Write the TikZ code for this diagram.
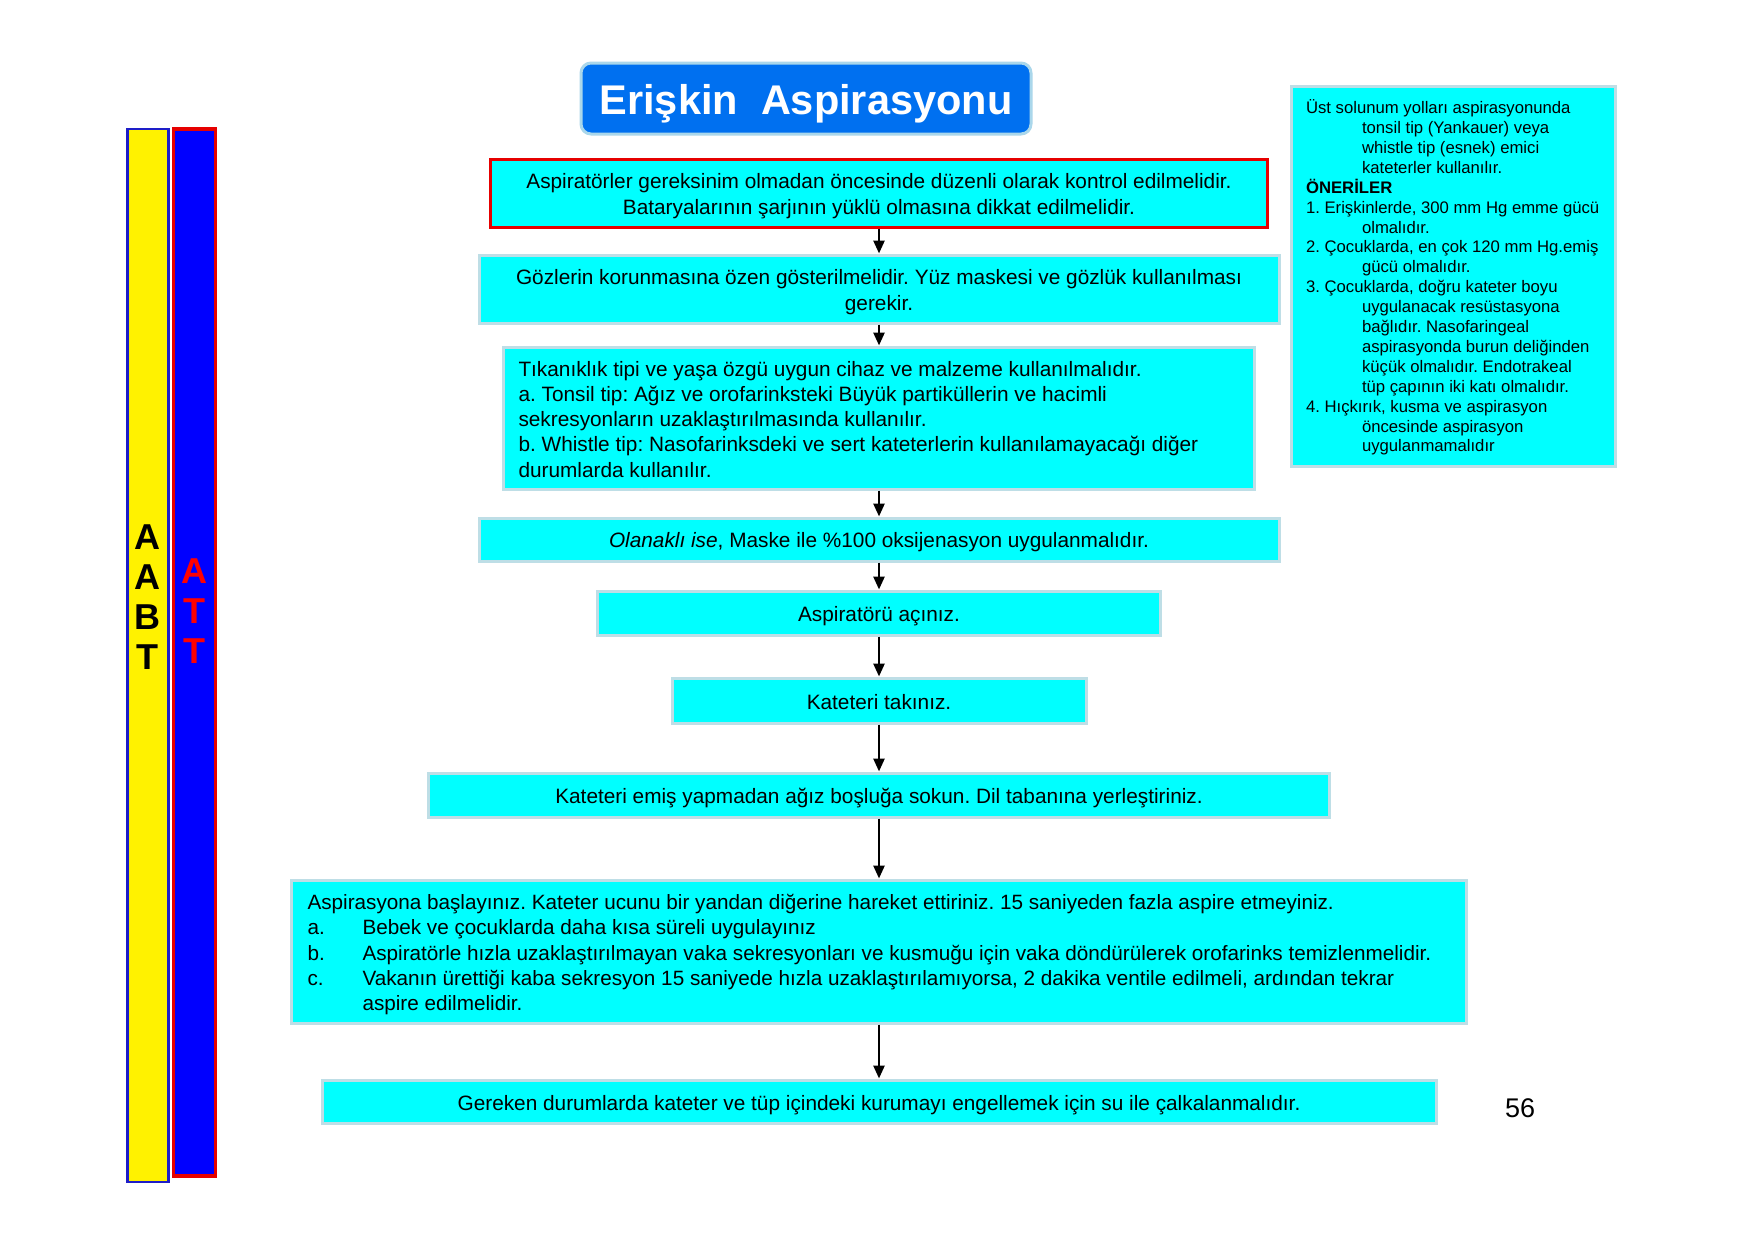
\documentclass[tikz,border=0pt]{standalone}
\usepackage{fontspec}
\setmainfont{Liberation Sans}
\usetikzlibrary{arrows.meta}
\definecolor{cyanfill}{RGB}{0,255,255}
\definecolor{boxedge}{RGB}{190,222,230}
\definecolor{titleblue}{RGB}{0,112,240}
\definecolor{titleedge}{RGB}{170,215,235}
\definecolor{barblue}{RGB}{0,0,255}
\definecolor{baredge}{RGB}{30,30,200}
\definecolor{redline}{RGB}{230,0,0}
\newcommand\hind{\hspace*{56pt}}
\newcommand\lbl[1]{\makebox[55pt][l]{#1}}
\newcommand\dn[2]{\raisebox{-#1}[\height][\depth]{#2}}
\newcommand\ctext[1]{\begin{tabular}{@{}c@{}}#1\end{tabular}}
\newcommand\ltext[2]{\parbox{#1}{\raggedright #2}}
\begin{document}
\frenchspacing
\begin{tikzpicture}[x=1pt,y=-1pt,
 box/.style={draw=boxedge,line width=3pt,fill=cyanfill,inner sep=0pt,font=\fontsize{20.8}{26}\selectfont},
 flow/.style={-{Triangle[length=13pt,width=11pt]},line width=2.6pt},
 barletters/.style={font=\fontsize{36}{40}\selectfont\bfseries,align=center,inner sep=0pt}]
\useasboundingbox[fill=white] (0,0) rectangle (1755,1240);

% side bars
\node[draw=baredge,line width=2.5pt,fill=yellow,minimum width=41pt,minimum height=1053pt,inner sep=0pt] (ybar) at (148,655.5) {};
\node[draw=redline,line width=3.5pt,fill=barblue,minimum width=42pt,minimum height=1047pt,inner sep=0pt] (bbar) at (194.5,652.5) {};
\node[barletters,text=black] (abt) at (147.5,597) {A\\A\\B\\T};
\node[barletters,text=red] (att) at (194.5,611) {A\\T\\T};

% title
\node[draw=titleedge,line width=3pt,fill=titleblue,rounded corners=10pt,minimum width=450pt,minimum height=71pt,inner sep=0pt,text=white,font=\fontsize{41.5}{48}\selectfont\bfseries] (title) at (806,98.5) {\dn{5.3pt}{Erişkin\ \ Aspirasyonu}};

% flow boxes
\node[box,draw=redline,minimum width=777pt,minimum height=68pt] (b1) at (879,193)
 {\dn{3.4pt}{\ctext{Aspiratörler gereksinim olmadan öncesinde düzenli olarak kontrol edilmelidir.\\Bataryalarının şarjının yüklü olmasına dikkat edilmelidir.}}};
\node[box,minimum width=800pt,minimum height=68pt] (b2) at (879,289)
 {\dn{3.4pt}{\ctext{Gözlerin korunmasına özen gösterilmelidir. Yüz maskesi ve gözlük kullanılması\\gerekir.}}};
\node[box,minimum width=751pt,minimum height=142pt,font=\fontsize{20.8}{25.2}\selectfont] (b3) at (879,418)
 {\dn{1.2pt}{\ltext{721pt}{\mbox{Tıkanıklık tipi ve yaşa özgü uygun cihaz ve malzeme kullanılmalıdır.}\\
  \mbox{a. Tonsil tip: Ağız ve orofarinksteki Büyük partiküllerin ve hacimli}\\
  \mbox{sekresyonların uzaklaştırılmasında kullanılır.}\\
  \mbox{b. Whistle tip: Nasofarinksdeki ve sert kateterlerin kullanılamayacağı diğer}\\
  \mbox{durumlarda kullanılır.}}}};
\node[box,minimum width=800pt,minimum height=43pt] (b4) at (879,539.5)
 {\dn{2.6pt}{\textit{Olanaklı ise}, Maske ile \%100 oksijenasyon uygulanmalıdır.}};
\node[box,minimum width=563pt,minimum height=44pt] (b5) at (879,613)
 {\dn{3.4pt}{Aspiratörü açınız.}};
\node[box,minimum width=414pt,minimum height=45pt] (b6) at (879,700.5)
 {\dn{1.2pt}{Kateteri takınız.}};
\node[box,minimum width=901pt,minimum height=44pt] (b7) at (879,795)
 {\dn{3.4pt}{Kateteri emiş yapmadan ağız boşluğa sokun. Dil tabanına yerleştiriniz.}};
\node[box,minimum width=1175pt,minimum height=143pt,font=\fontsize{20.7}{25.2}\selectfont] (b8) at (879,951.5)
 {\dn{3pt}{\ltext{1143pt}{\mbox{Aspirasyona başlayınız. Kateter ucunu bir yandan diğerine hareket ettiriniz. 15 saniyeden fazla aspire etmeyiniz.}\\
  \mbox{\lbl{a.}Bebek ve çocuklarda daha kısa süreli uygulayınız}\\
  \mbox{\lbl{b.}Aspiratörle hızla uzaklaştırılmayan vaka sekresyonları ve kusmuğu için vaka döndürülerek orofarinks temizlenmelidir.}\\
  \mbox{\lbl{c.}Vakanın ürettiği kaba sekresyon 15 saniyede hızla uzaklaştırılamıyorsa, 2 dakika ventile edilmeli, ardından tekrar}\\
  \mbox{\lbl{}aspire edilmelidir.}}}};
\node[box,minimum width=1114pt,minimum height=43pt] (b9) at (879,1101.5)
 {\dn{3.4pt}{Gereken durumlarda kateter ve tüp içindeki kurumayı engellemek için su ile çalkalanmalıdır.}};

% arrows
\draw[flow] (b1) -- (b2);
\draw[flow] (b2) -- (b3);
\draw[flow] (b3) -- (b4);
\draw[flow] (b4) -- (b5);
\draw[flow] (b5) -- (b6);
\draw[flow] (b6) -- (b7);
\draw[flow] (b7) -- (b8);
\draw[flow] (b8) -- (b9);

% side note
\node[box,minimum width=324pt,minimum height=380pt,font=\fontsize{16.7}{19.9}\selectfont] (note) at (1453,276)
 {\dn{1.5pt}{\ltext{294pt}{\mbox{Üst solunum yolları aspirasyonunda}\\
  \mbox{\hind tonsil tip (Yankauer) veya}\\
  \mbox{\hind whistle tip (esnek) emici}\\
  \mbox{\hind kateterler kullanılır.}\\
  \mbox{\textbf{ÖNERİLER}}\\
  \mbox{1. Erişkinlerde, 300 mm Hg emme gücü}\\
  \mbox{\hind olmalıdır.}\\
  \mbox{2. Çocuklarda, en çok 120 mm Hg.emiş}\\
  \mbox{\hind gücü olmalıdır.}\\
  \mbox{3. Çocuklarda, doğru kateter boyu}\\
  \mbox{\hind uygulanacak resüstasyona}\\
  \mbox{\hind bağlıdır. Nasofaringeal}\\
  \mbox{\hind aspirasyonda burun deliğinden}\\
  \mbox{\hind küçük olmalıdır. Endotrakeal}\\
  \mbox{\hind tüp çapının iki katı olmalıdır.}\\
  \mbox{4. Hıçkırık, kusma ve aspirasyon}\\
  \mbox{\hind öncesinde aspirasyon}\\
  \mbox{\hind uygulanmamalıdır}}}};

% page number
\node[font=\fontsize{27}{32}\selectfont,inner sep=0pt] (pnum) at (1520,1108) {56};
\end{tikzpicture}
\end{document}
